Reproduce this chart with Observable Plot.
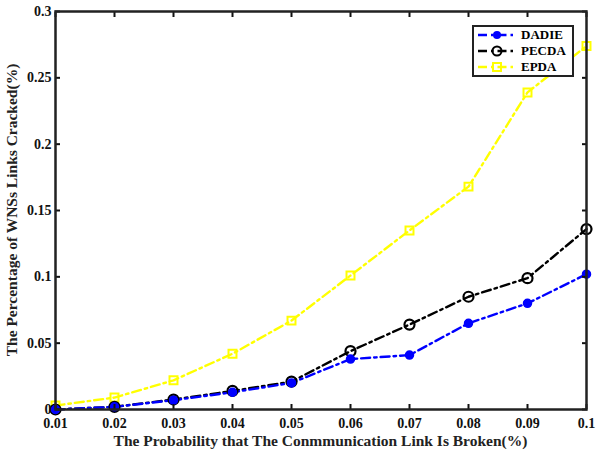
<!DOCTYPE html>
<html>
<head>
<meta charset="utf-8">
<script src="https://cdn.jsdelivr.net/npm/d3@7"></script>
<script src="https://cdn.jsdelivr.net/npm/@observablehq/plot@0.6"></script>
<style>
body { margin: 0; background: #fff; }
#wrap { position: relative; width: 600px; height: 456px; font-family: "Liberation Serif", "Times New Roman", serif; }
#legend { position: absolute; left: 472px; top: 25px; width: 98px; height: 48px; border: 2px solid #222; background: #fff; font-weight: bold; font-size: 13px; }
#legend .row { display: flex; align-items: center; height: 16px; margin-left: 3px; }
#legend .row span { margin-left: 4px; }
</style>
</head>
<body>
<div id="wrap"></div>
<script>
const probabilities = [0.01, 0.02, 0.03, 0.04, 0.05, 0.06, 0.07, 0.08, 0.09, 0.1];
const dadie = [0, 0.002, 0.007, 0.013, 0.020, 0.038, 0.041, 0.065, 0.080, 0.102];
const pecda = [0, 0.002, 0.0075, 0.014, 0.021, 0.044, 0.064, 0.085, 0.099, 0.136];
const epda  = [0.003, 0.009, 0.022, 0.042, 0.067, 0.101, 0.135, 0.168, 0.239, 0.274];
const seriesNames = ["DADIE", "PECDA", "EPDA"];
const seriesColors = ["#0000ff", "#000000", "#ffff00"];
const xTicks = [0.01, 0.02, 0.03, 0.04, 0.05, 0.06, 0.07, 0.08, 0.09, 0.1];
const yTicks = [0, 0.05, 0.1, 0.15, 0.2, 0.25, 0.3];

const toRows = (vals, name) => probabilities.map((p, i) => ({p, v: vals[i], name}));
const dDadie = toRows(dadie, "DADIE");
const dPecda = toRows(pecda, "PECDA");
const dEpda = toRows(epda, "EPDA");
const dash = "9,4,2.5,4";

const chart = Plot.plot({
  width: 600,
  height: 456,
  marginLeft: 55,
  marginRight: 14,
  marginTop: 11,
  marginBottom: 47,
  style: {fontFamily: "Liberation Serif, Times New Roman, serif", fontWeight: "bold", fontSize: "13px", color: "#111", background: "#fff"},
  x: {domain: [0.01, 0.1], ticks: xTicks, label: null},
  y: {domain: [0, 0.3], ticks: yTicks, label: null},
  marks: [
    Plot.line(dEpda, {x: "p", y: "v", stroke: seriesColors[2], strokeWidth: 2.4, strokeDasharray: dash}),
    Plot.line(dPecda, {x: "p", y: "v", stroke: seriesColors[1], strokeWidth: 2.4, strokeDasharray: dash}),
    Plot.line(dDadie, {x: "p", y: "v", stroke: seriesColors[0], strokeWidth: 2.4, strokeDasharray: dash}),
    Plot.dot(dEpda, {x: "p", y: "v", symbol: "square", r: 4.5, stroke: seriesColors[2], strokeWidth: 2, fill: "none"}),
    Plot.dot(dPecda, {x: "p", y: "v", r: 5, stroke: seriesColors[1], strokeWidth: 2.2, fill: "none"}),
    Plot.dot(dDadie, {x: "p", y: "v", r: 4, fill: seriesColors[0], stroke: seriesColors[0]}),
    Plot.axisX({ticks: xTicks, tickSize: -5, tickPadding: 14, strokeWidth: 2, fontSize: 14, tickFormat: d => String(d)}),
    Plot.axisX({ticks: xTicks, anchor: "top", tickSize: -5, strokeWidth: 2, tickFormat: () => ""}),
    Plot.axisY({ticks: yTicks, tickSize: -5, tickPadding: 9, strokeWidth: 2, fontSize: 14, tickFormat: d => String(d)}),
    Plot.axisY({ticks: yTicks, anchor: "right", tickSize: -5, strokeWidth: 2, tickFormat: () => ""}),
    Plot.frame({stroke: "#222", strokeWidth: 2.5})
  ]
});

const wrap = document.getElementById("wrap");
wrap.appendChild(chart);

const svg = d3.select(chart);
svg.append("text")
  .attr("x", 55 + (600 - 55 - 14) / 2)
  .attr("y", 446)
  .attr("text-anchor", "middle")
  .attr("font-size", 15.5)
  .attr("font-weight", "bold")
  .attr("fill", "#222")
  .text("The Probability that The Conmmunication Link Is Broken(%)");
svg.append("text")
  .attr("transform", `translate(17,${11 + (456 - 11 - 47) / 2}) rotate(-90)`)
  .attr("text-anchor", "middle")
  .attr("font-size", 15.5)
  .attr("font-weight", "bold")
  .attr("fill", "#222")
  .text("The Percentage of WNSs Links Cracked(%)");

// legend
const legend = document.createElement("div");
legend.id = "legend";
const markerFor = (i) => {
  if (i === 0) return `<circle cx="20" cy="7" r="4" fill="${seriesColors[0]}"/>`;
  if (i === 1) return `<circle cx="20" cy="7" r="4.5" fill="none" stroke="#000" stroke-width="2"/>`;
  return `<rect x="16" y="3" width="8" height="8" fill="none" stroke="${seriesColors[2]}" stroke-width="2"/>`;
};
seriesNames.forEach((name, i) => {
  const row = document.createElement("div");
  row.className = "row";
  row.innerHTML = `<svg width="40" height="14"><line x1="1" y1="7" x2="39" y2="7" stroke="${seriesColors[i]}" stroke-width="2.4" stroke-dasharray="9,4,2.5,4"/>${markerFor(i)}</svg><span>${name}</span>`;
  legend.appendChild(row);
});
wrap.appendChild(legend);
</script>
</body>
</html>
